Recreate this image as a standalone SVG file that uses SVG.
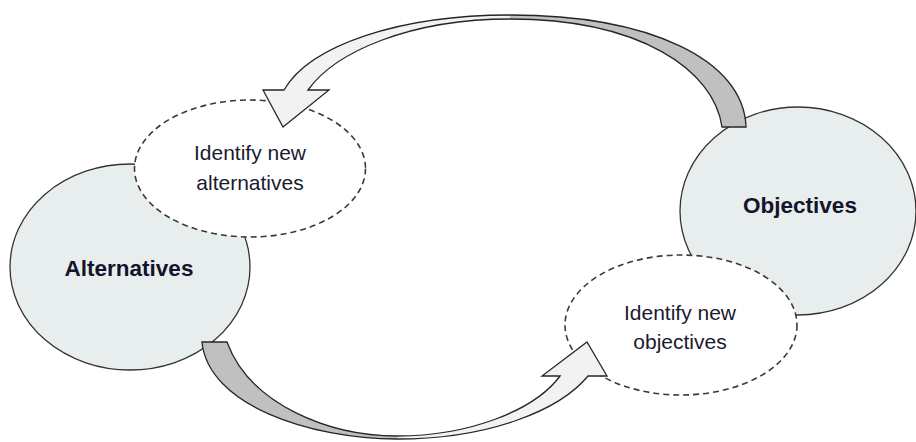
<svg xmlns="http://www.w3.org/2000/svg" width="916" height="442" viewBox="0 0 916 442">
<style>
.main{fill:#e8eeee;stroke:#333;stroke-width:1.3}
.idea{fill:#fff;stroke:#3a3a3a;stroke-width:1.6;stroke-dasharray:6 4}
.dark{fill:#c0c0c0;stroke:none}
.light{fill:#f2f2f2;stroke:none}
.edge{fill:none;stroke:#262626;stroke-width:1.3;stroke-linejoin:miter}
.title{font-family:"Liberation Sans",Arial,sans-serif;font-weight:bold;font-size:22.5px;fill:#14142a;text-anchor:middle}
.lbl{font-family:"Liberation Sans",Arial,sans-serif;font-size:21px;fill:#1a1a30;text-anchor:middle}
</style>
<rect width="916" height="442" fill="#fff"/>
<g id="alternatives">
<ellipse class="main" cx="130" cy="267" rx="120" ry="103"/>
</g>
<g id="objectives">
<ellipse class="main" cx="798" cy="211" rx="118" ry="104"/>
</g>
<g id="identify-alternatives">
<ellipse class="idea" cx="250" cy="168.5" rx="115.5" ry="68.5"/>
<text class="lbl" x="250" y="160">Identify new</text>
<text class="lbl" x="250" y="190">alternatives</text>
</g>
<g id="identify-objectives">
<ellipse class="idea" cx="681" cy="325" rx="116" ry="70"/>
<text class="lbl" x="680" y="320">Identify new</text>
<text class="lbl" x="680" y="349">objectives</text>
</g>
<g id="connectors">
<g id="arrow-objectives-to-alternatives">
<path class="dark" d="M722,127 L746,127 C744,60 650,15 510,15 L510,19 C640,19 714,70 722,127 Z"/>
<path class="light" d="M510,15 C400,15 310,45 284,90 L263,90 L283,127 L329,90 L308,90 C335,52 410,19 510,19 Z"/>
<path class="edge" d="M722,127 L746,127 C744,60 650,15 510,15 C400,15 310,45 284,90 L263,90 L283,127 L329,90 L308,90 C335,52 410,19 510,19 C640,19 714,70 722,127 Z"/>
</g>
<g id="arrow-alternatives-to-objectives">
<path class="dark" d="M202,342 L227,342 C250,405 330,436 397,436 L397,439 C310,439 208,405 202,342 Z"/>
<path class="light" d="M397,439 C490,439 560,410 588,376 L607,376 L587,342 L542,376 L560,376 C535,410 470,436 397,436 Z"/>
<path class="edge" d="M202,342 L227,342 C250,405 330,436 397,436 C470,436 535,410 560,376 L542,376 L587,342 L607,376 L588,376 C560,410 490,439 397,439 C310,439 208,405 202,342 Z"/>
</g>
</g>
<text class="title" x="129" y="276">Alternatives</text>
<text class="title" x="800" y="213">Objectives</text>
</svg>
